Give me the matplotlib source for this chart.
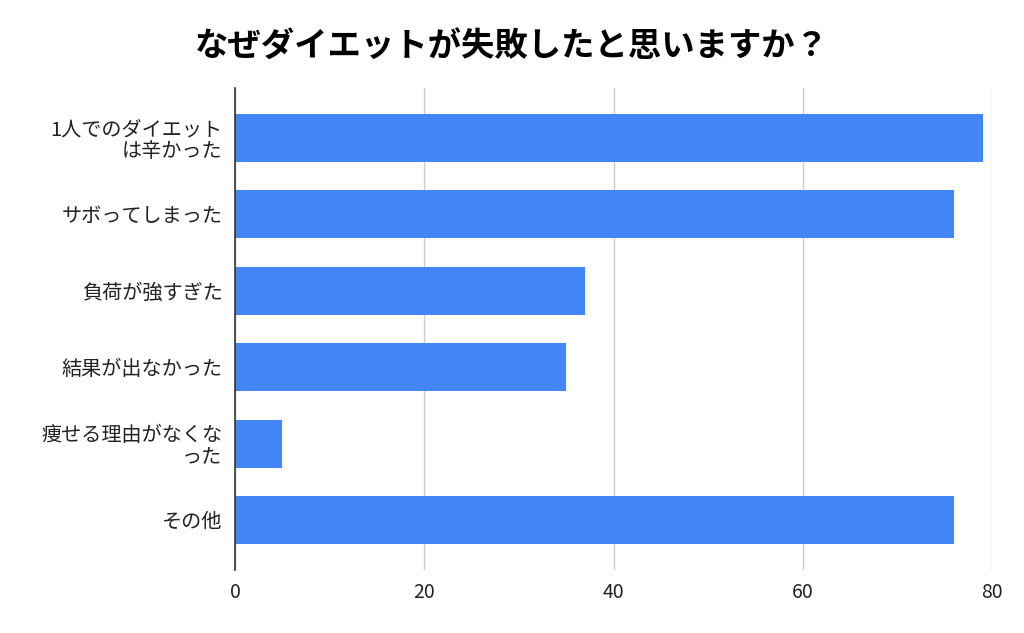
import matplotlib
matplotlib.use("Agg")
import matplotlib.pyplot as plt

plt.rcParams['font.family'] = ['Noto Sans CJK JP', 'DejaVu Sans']

title = "なぜダイエットが失敗したと思いますか？"
categories = ["1人でのダイエット\nは辛かった", "サボってしまった", "負荷が強すぎた",
              "結果が出なかった", "痩せる理由がなくな\nった", "その他"]
values = [79, 76, 37, 35, 5, 76]
xticks = [0, 20, 40, 60, 80]

fig = plt.figure(figsize=(10.24, 6.33), dpi=100)
ax = fig.add_axes([235 / 1024, 63 / 633, 757 / 1024, 482 / 633])

pos = list(range(len(categories)))
ax.barh(pos, values, height=0.63, color='#4285F4', zorder=3)

ax.set_ylim(5.655, -0.655)
ax.set_xlim(0, 80)
ax.set_yticks(pos)
ax.set_yticklabels(categories, fontsize=14.5, color='#222222', linespacing=1.0)
ax.set_xticks(xticks)
ax.set_xticklabels([str(t) for t in xticks], fontsize=14, color='#222222')
ax.tick_params(axis='both', length=0, pad=9)

ax.grid(axis='x', color='#cccccc', linewidth=1, zorder=0)
for s in ['top', 'right', 'bottom']:
    ax.spines[s].set_visible(False)
ax.spines['left'].set_color('#333333')
ax.spines['left'].set_linewidth(1.2)
ax.spines['left'].set_zorder(4)

fig.text(0.5, 1 - 47 / 633, title, fontsize=24, fontweight='bold',
         ha='center', va='center', color='#000000')

fig.savefig("out.png", dpi=100)
